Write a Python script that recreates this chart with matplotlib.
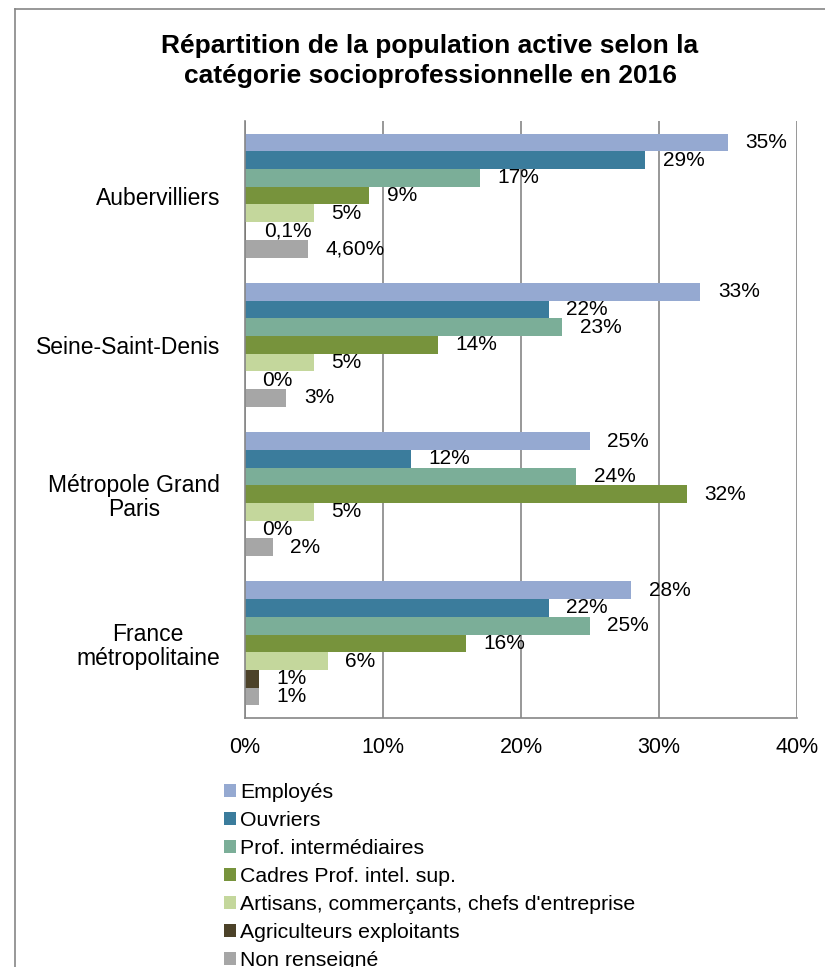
import matplotlib
matplotlib.use("Agg")
import matplotlib.pyplot as plt
import numpy as np

plt.rcParams['font.family'] = ['Liberation Sans', 'DejaVu Sans']

categories = ["Aubervilliers", "Seine-Saint-Denis", "Métropole Grand\nParis", "France\nmétropolitaine"]
series = ["Employés", "Ouvriers", "Prof. intermédiaires", "Cadres Prof. intel. sup.",
          "Artisans, commerçants, chefs d'entreprise", "Agriculteurs exploitants", "Non renseigné"]
employes = [35, 33, 25, 28]
ouvriers = [29, 22, 12, 22]
prof_inter = [17, 23, 24, 25]
cadres = [9, 14, 32, 16]
artisans = [5, 5, 5, 6]
agriculteurs = [0.1, 0, 0, 1]
non_renseigne = [4.6, 3, 2, 1]

lab_employes = ["35%", "33%", "25%", "28%"]
lab_ouvriers = ["29%", "22%", "12%", "22%"]
lab_prof_inter = ["17%", "23%", "24%", "25%"]
lab_cadres = ["9%", "14%", "32%", "16%"]
lab_artisans = ["5%", "5%", "5%", "6%"]
lab_agriculteurs = ["0,1%", "0%", "0%", "1%"]
lab_non_renseigne = ["4,60%", "3%", "2%", "1%"]

xticks = [0, 10, 20, 30, 40]
xtick_labels = ["0%", "10%", "20%", "30%", "40%"]

values = [employes, ouvriers, prof_inter, cadres, artisans, agriculteurs, non_renseigne]
labels = [lab_employes, lab_ouvriers, lab_prof_inter, lab_cadres, lab_artisans, lab_agriculteurs, lab_non_renseigne]
colors = ["#95A9D1", "#3B7C9C", "#7BAE98", "#77933C", "#C4D79C", "#4C4229", "#A6A6A6"]

fig = plt.figure(figsize=(8.25, 9.67), dpi=100)
ax = fig.add_axes([245/825, 1-718/967, (797-245)/825, (718-121)/967])

h = 0.1186
n = len(series)
y = np.arange(len(categories))
for j in range(n):
    pos = y + (j - (n-1)/2) * h
    bars = ax.barh(pos, values[j], height=h, color=colors[j], label=series[j], zorder=3)
    for k, b in enumerate(bars):
        ax.annotate(labels[j][k], xy=(values[j][k], pos[k]), xytext=(12.5, 0),
                    textcoords='offset points', ha='left', va='center',
                    fontsize=15, color='black', zorder=4)

ax.set_xlim(0, 40)
ax.set_ylim(len(categories) - 0.5, -0.5)
ax.set_xticks(xticks)
ax.set_xticklabels(xtick_labels, fontsize=15.5)
ax.set_yticks(y)
ax.set_yticklabels(categories, fontsize=16.5, multialignment='center', linespacing=1.05)
ax.tick_params(axis='both', length=0)
ax.tick_params(axis='x', pad=14)
ax.tick_params(axis='y', pad=18)
for s in ['top', 'right']:
    ax.spines[s].set_visible(False)
for s in ['left', 'bottom']:
    ax.spines[s].set_color('#868686')
    ax.spines[s].set_linewidth(1.2)
    ax.spines[s].set_zorder(5)
ax.grid(axis='x', color='#868686', linewidth=1.2, zorder=1)
ax.set_axisbelow(True)

fig.text(430/825, 1-61/967, "Répartition de la population active selon la\ncatégorie socioprofessionnelle en 2016",
         ha='center', va='center', fontsize=19, fontweight='bold', linespacing=1.3)

leg = fig.legend(loc='upper left', bbox_to_anchor=(224/825, 1-783/967), frameon=False,
                 fontsize=15.3, handlelength=0.565, handleheight=0.565, handletextpad=0.19,
                 labelspacing=0.42, borderpad=0, borderaxespad=0)

# outer border
fig.add_artist(plt.Line2D([15/825, 15/825], [0, 1-9/967], transform=fig.transFigure, color='#868686', linewidth=1.2))
fig.add_artist(plt.Line2D([15/825, 1], [1-9/967, 1-9/967], transform=fig.transFigure, color='#868686', linewidth=1.2))

fig.savefig("out.png", dpi=100)
